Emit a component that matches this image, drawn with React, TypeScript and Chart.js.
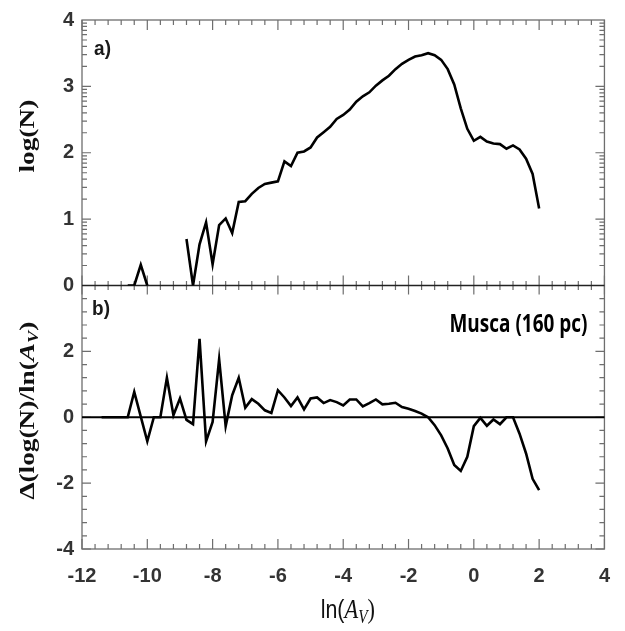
import React, { useEffect, useRef } from 'react';
import { Chart, registerables } from 'chart.js';

Chart.register(...registerables);

// ln(A_V) grid of panel a)
const lnAv = [
  -10.6, -10.4, -10.2, -10.0, -9.8, -9.6, -9.4, -9.2, -9.0, -8.8, -8.6, -8.4, -8.2, -8.0, -7.8, -7.6,
  -7.4, -7.2, -7.0, -6.8, -6.6, -6.4, -6.2, -6.0, -5.8, -5.6, -5.4, -5.2, -5.0, -4.8, -4.6, -4.4,
  -4.2, -4.0, -3.8, -3.6, -3.4, -3.2, -3.0, -2.8, -2.6, -2.4, -2.2, -2.0, -1.8, -1.6, -1.4, -1.2,
  -1.0, -0.8, -0.6, -0.4, -0.2, 0.0, 0.2, 0.4, 0.6, 0.8, 1.0, 1.2, 1.4, 1.6, 1.8, 2.0,
];
// log(N) (null = empty bins)
const logN = [
  0, 0, 0.31, 0, null, null, null, null, null, 0.70, 0, 0.62, 0.95, 0.32, 0.91, 1.01,
  0.79, 1.26, 1.27, 1.38, 1.47, 1.53, 1.55, 1.57, 1.87, 1.80, 2.00, 2.02, 2.08, 2.23, 2.31, 2.39,
  2.51, 2.57, 2.65, 2.77, 2.85, 2.91, 3.01, 3.09, 3.16, 3.26, 3.34, 3.40, 3.45, 3.47, 3.50, 3.47,
  3.40, 3.26, 3.03, 2.67, 2.36, 2.18, 2.24, 2.17, 2.14, 2.13, 2.06, 2.11, 2.05, 1.91, 1.68, 1.16,
];
// ln(A_V) grid of panel b)
const lnAvB = [
  -11.4, -11.2, -11.0, -10.8,
  -10.6, -10.4, -10.2, -10.0, -9.8, -9.6, -9.4, -9.2, -9.0, -8.8, -8.6, -8.4, -8.2, -8.0, -7.8, -7.6,
  -7.4, -7.2, -7.0, -6.8, -6.6, -6.4, -6.2, -6.0, -5.8, -5.6, -5.4, -5.2, -5.0, -4.8, -4.6, -4.4,
  -4.2, -4.0, -3.8, -3.6, -3.4, -3.2, -3.0, -2.8, -2.6, -2.4, -2.2, -2.0, -1.8, -1.6, -1.4, -1.2,
  -1.0, -0.8, -0.6, -0.4, -0.2, 0.0, 0.2, 0.4, 0.6, 0.8, 1.0, 1.2, 1.4, 1.6, 1.8, 2.0,
];
// Δ(log(N))/Δ(ln(A_V))
const dLogN = [
  0, 0, 0, 0,
  0, 0.77, 0.02, -0.73, 0, 0, 1.20, 0.06, 0.57, -0.08, -0.21, 2.38, -0.73, -0.14, 1.76, -0.27,
  0.67, 1.20, 0.29, 0.55, 0.41, 0.21, 0.13, 0.82, 0.60, 0.34, 0.60, 0.24, 0.57, 0.60, 0.43, 0.52,
  0.46, 0.36, 0.54, 0.54, 0.33, 0.43, 0.54, 0.39, 0.41, 0.44, 0.31, 0.26, 0.19, 0.11, 0.0, -0.24,
  -0.55, -0.95, -1.45, -1.63, -1.20, -0.27, -0.02, -0.26, -0.07, -0.21, 0.0, 0.0, -0.5, -1.1, -1.87, -2.21,
];

const xTicks = [-12, -10, -8, -6, -4, -2, 0, 2, 4];
const yTopTicks = [0, 1, 2, 3, 4];
const yBotTicks = [-4, -2, 0, 2];

const TICK_FONT = { family: '"Liberation Sans", Arial, sans-serif', size: 20, weight: 'bold' as const };

type Part = { t: string; font: string; dy?: number };

function drawParts(ctx: CanvasRenderingContext2D, parts: Part[], cx: number, cy: number, rot: number, sx: number, sy: number, align: 'center' | 'left' | 'right' = 'center') {
  ctx.save();
  ctx.translate(cx, cy);
  if (rot) ctx.rotate(rot);
  ctx.scale(sx, sy);
  let total = 0;
  const widths = parts.map((p) => {
    ctx.font = p.font;
    const w = ctx.measureText(p.t).width;
    total += w;
    return w;
  });
  let x = align === 'center' ? -total / 2 : align === 'right' ? -total : 0;
  ctx.textAlign = 'left';
  ctx.textBaseline = 'alphabetic';
  parts.forEach((p, i) => {
    ctx.font = p.font;
    ctx.fillText(p.t, x, p.dy || 0);
    x += widths[i];
  });
  ctx.restore();
}

const framePlugin = {
  id: 'framePlugin',
  beforeDatasetsDraw(chart: any) {
    const { ctx, chartArea } = chart;
    const xs = chart.scales.x;
    const yT = chart.scales.yTop;
    const yB = chart.scales.yBot;
    const { left, right, top, bottom } = chartArea;
    const ym = yT.getPixelForValue(0);
    ctx.save();
    ctx.lineCap = 'butt';
    ctx.strokeStyle = '#6e6e6e';
    ctx.lineWidth = 1.3;
    ctx.strokeRect(left, top, right - left, bottom - top);
    ctx.lineWidth = 1.2;
    for (let i = 0; i <= 40; i++) {
      const v = -12 + i * 0.4;
      const major = i % 5 === 0;
      const px = xs.getPixelForValue(v);
      const len = major ? 10 : 5;
      ctx.beginPath();
      ctx.moveTo(px, top);
      ctx.lineTo(px, top + len);
      ctx.moveTo(px, ym - (major ? 10 : 4.5));
      ctx.lineTo(px, ym + (major ? 9 : 4.5));
      ctx.moveTo(px, bottom);
      ctx.lineTo(px, bottom - len);
      ctx.stroke();
    }
    const drawY = (py: number, len: number) => {
      ctx.beginPath();
      ctx.moveTo(left, py);
      ctx.lineTo(left + len, py);
      ctx.moveTo(right, py);
      ctx.lineTo(right - len, py);
      ctx.stroke();
    };
    for (let n = 0; n < 4; n++) {
      drawY(yT.getPixelForValue(n), 9);
      for (let k = 2; k <= 9; k++) drawY(yT.getPixelForValue(n + Math.log10(k)), 5);
    }
    for (let i = 0; i <= 20; i++) {
      const v = -4 + i * 0.4;
      const major = i % 5 === 0;
      drawY(yB.getPixelForValue(v), major ? 9 : 5);
    }
    ctx.strokeStyle = '#222';
    ctx.lineWidth = 1.5;
    ctx.beginPath();
    ctx.moveTo(left, ym);
    ctx.lineTo(right, ym);
    ctx.stroke();
    const y0 = yB.getPixelForValue(0);
    ctx.strokeStyle = '#000';
    ctx.lineWidth = 2;
    ctx.beginPath();
    ctx.moveTo(left, y0);
    ctx.lineTo(right, y0);
    ctx.stroke();
    ctx.restore();
  },
  afterDraw(chart: any) {
    const { ctx } = chart;
    const xs = chart.scales.x;
    const yT = chart.scales.yTop;
    const yB = chart.scales.yBot;
    ctx.save();
    ctx.fillStyle = '#1a1a1a';
    drawParts(ctx, [{ t: 'a)', font: 'bold 19px "Liberation Sans", Arial, sans-serif' }], xs.getPixelForValue(-11.63), yT.getPixelForValue(3.47), 0, 1, 1.1, 'left');
    drawParts(ctx, [{ t: 'b)', font: 'bold 19px "Liberation Sans", Arial, sans-serif' }], xs.getPixelForValue(-11.69), yB.getPixelForValue(3.1), 0, 1, 1.1, 'left');
    ctx.fillStyle = '#000';
    const mFont = 'bold 21px "Open Sans", "Liberation Sans", sans-serif';
    ctx.font = mFont;
    const mw = ctx.measureText('Musca (160 pc)').width;
    drawParts(ctx, [{ t: 'Musca (160 pc)', font: mFont }], xs.getPixelForValue(3.48), yB.getPixelForValue(2.58), 0, 138 / mw, 1.15, 'right');
    ctx.fillStyle = '#111';
    const serifB = 'bold 21px "Liberation Serif", "Times New Roman", serif';
    const serifI = 'italic bold 21px "Liberation Serif", "Times New Roman", serif';
    const serifIs = 'italic bold 14px "Liberation Serif", "Times New Roman", serif';
    drawParts(ctx, [{ t: 'log(N)', font: serifB }], 34, yT.getPixelForValue(2.25), -Math.PI / 2, 1.3, 1);
    drawParts(ctx, [
      { t: 'Δ(log(N)/ln(', font: serifB },
      { t: 'A', font: serifI },
      { t: 'V', font: serifIs, dy: 4 },
      { t: ')', font: serifB },
    ], 34, yB.getPixelForValue(0.2), -Math.PI / 2, 1.3, 1);
    drawParts(ctx, [
      { t: 'ln(', font: '500 21px "Liberation Sans", Arial, sans-serif' },
      { t: 'A', font: 'italic 22px "Liberation Serif", serif' },
      { t: 'V', font: 'italic 15px "Liberation Serif", serif', dy: 4 },
      { t: ')', font: '22px "Liberation Serif", serif' },
    ], xs.getPixelForValue(-3.86), 618, 0, 1.02, 1.2);
    ctx.restore();
  },
};

export default function App() {
  const canvasRef = useRef<HTMLCanvasElement | null>(null);

  useEffect(() => {
    if (!canvasRef.current) return;
    const chart = new Chart(canvasRef.current, {
      type: 'line',
      data: {
        datasets: [
          {
            label: 'log(N)',
            data: lnAv.map((x, i) => ({ x, y: logN[i] })),
            yAxisID: 'yTop',
            borderColor: '#000',
            borderWidth: 2.6,
            pointRadius: 0,
            spanGaps: false,
            tension: 0,
          },
          {
            label: 'derivative',
            data: lnAvB.map((x, i) => ({ x, y: dLogN[i] })),
            yAxisID: 'yBot',
            borderColor: '#000',
            borderWidth: 2.6,
            pointRadius: 0,
            tension: 0,
          },
        ],
      },
      options: {
        animation: false,
        responsive: true,
        maintainAspectRatio: false,
        layout: { padding: { left: 0, right: 19, top: 17, bottom: 0 } },
        plugins: { legend: { display: false }, tooltip: { enabled: false } },
        scales: {
          x: {
            type: 'linear',
            min: -12,
            max: 4,
            afterBuildTicks: (s: any) => { s.ticks = xTicks.map((v) => ({ value: v })); },
            afterFit: (s: any) => { s.height = 82; },
            grid: { display: false, drawTicks: false },
            border: { display: false },
            ticks: { font: TICK_FONT, color: '#333', padding: 15, maxRotation: 0, autoSkip: false },
          },
          yBot: {
            type: 'linear',
            position: 'left',
            stack: 'panels',
            stackWeight: 265,
            min: -4,
            max: 4,
            afterBuildTicks: (s: any) => { s.ticks = yBotTicks.map((v) => ({ value: v })); },
            afterFit: (s: any) => { s.width = 82; },
            grid: { display: false, drawTicks: false },
            border: { display: false },
            ticks: { font: TICK_FONT, color: '#333', padding: 8, autoSkip: false },
          },
          yTop: {
            type: 'linear',
            position: 'left',
            stack: 'panels',
            stackWeight: 267,
            min: 0,
            max: 4,
            afterBuildTicks: (s: any) => { s.ticks = yTopTicks.map((v) => ({ value: v })); },
            afterFit: (s: any) => { s.width = 82; },
            grid: { display: false, drawTicks: false },
            border: { display: false },
            ticks: { font: TICK_FONT, color: '#333', padding: 8, autoSkip: false },
          },
        },
      } as any,
      plugins: [framePlugin],
    });
    return () => chart.destroy();
  }, []);

  return (
    <div style={{ position: 'absolute', left: 0, top: 0, width: 625, height: 631, background: '#fff' }}>
      <canvas ref={canvasRef} />
    </div>
  );
}
